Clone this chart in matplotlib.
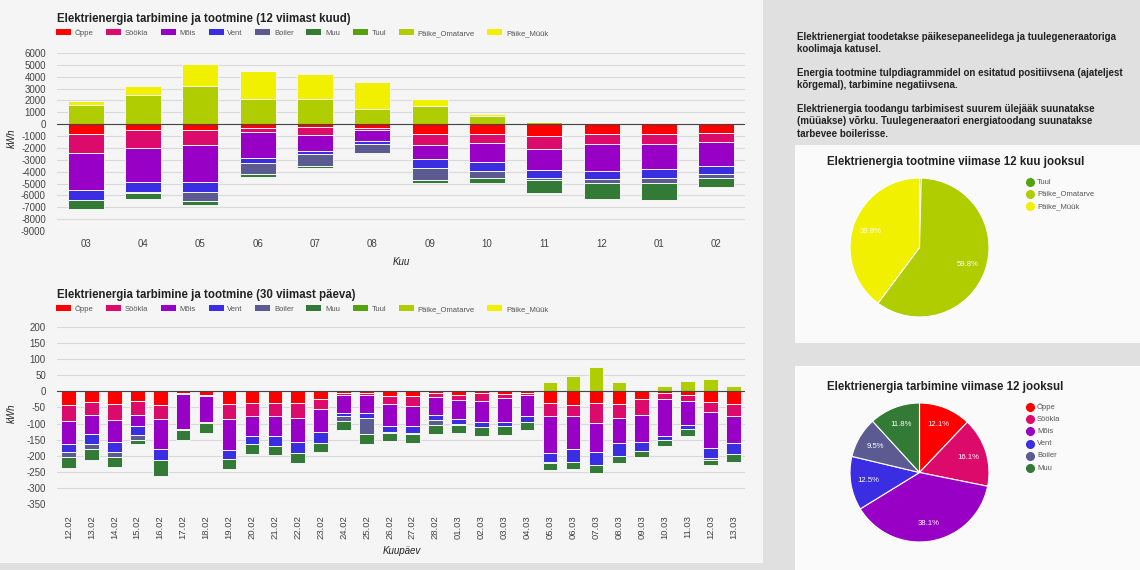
import matplotlib
matplotlib.use("Agg")
import matplotlib.pyplot as plt
from matplotlib.patches import Rectangle, Patch
from matplotlib.lines import Line2D
import numpy as np

plt.rcParams['font.family'] = ['Liberation Sans', 'DejaVu Sans']
plt.rcParams['axes.unicode_minus'] = False

# --- data: last 12 months (kWh) ---
months = ['03', '04', '05', '06', '07', '08', '09', '10', '11', '12', '01', '02']
m_oppe = [840, 480, 480, 360, 250, 340, 840, 785, 1010, 810, 810, 700]
m_sookla = [1600, 1540, 1290, 260, 620, 140, 930, 815, 1060, 840, 840, 840]
m_mois = [3080, 2880, 3080, 2210, 1400, 920, 1200, 1570, 1800, 2300, 2160, 2020]
m_vent = [840, 850, 840, 450, 280, 250, 760, 750, 700, 680, 760, 620]
m_boiler = [30, 60, 790, 900, 950, 760, 980, 650, 110, 360, 420, 330]
m_muu = [790, 500, 330, 250, 170, 140, 280, 360, 1100, 1320, 1370, 820]
m_tuul = [10, 10, 10, 5, 5, 5, 10, 10, 15, 10, 10, 10]
m_omatarve = [1600, 2410, 3250, 2160, 2160, 1260, 1540, 670, 170, 0, 0, 0]
m_myyk = [330, 760, 1800, 2350, 2040, 2330, 590, 140, 0, 0, 0, 0]

# --- data: last 30 days (kWh) ---
days = ['12.02', '13.02', '14.02', '15.02', '16.02', '17.02', '18.02', '19.02', '20.02', '21.02',
        '22.02', '23.02', '24.02', '25.02', '26.02', '27.02', '28.02', '01.03', '02.03', '03.03',
        '04.03', '05.03', '06.03', '07.03', '08.03', '09.03', '10.03', '11.03', '12.03', '13.03']
d_oppe = [44, 34, 40, 29, 43, 5, 10, 39, 37, 37, 37, 25, 6, 6, 14, 14, 6, 10, 6, 7,
          4, 37, 43, 37, 39, 24, 6, 10, 34, 40]
d_sookla = [47, 38, 49, 44, 44, 4, 4, 47, 41, 39, 45, 31, 4, 6, 26, 33, 11, 17, 24, 15,
            6, 41, 35, 62, 44, 50, 18, 20, 31, 38]
d_mois = [71, 60, 68, 34, 92, 107, 81, 96, 60, 62, 75, 70, 56, 56, 66, 59, 57, 59, 66, 74,
          68, 114, 102, 89, 76, 84, 114, 75, 111, 83]
d_vent = [26, 31, 31, 29, 34, 4, 2, 29, 26, 30, 35, 33, 12, 15, 19, 24, 15, 15, 14, 13,
          16, 27, 39, 41, 42, 27, 13, 13, 32, 33]
d_boiler = [16, 17, 16, 15, 1, 0, 0, 0, 0, 0, 0, 0, 14, 50, 4, 3, 14, 2, 2, 0,
            0, 2, 0, 0, 0, 0, 0, 0, 4, 0]
d_muu = [34, 34, 31, 12, 47, 30, 33, 30, 29, 30, 29, 29, 29, 29, 25, 27, 29, 27, 26, 26,
         26, 22, 22, 23, 22, 20, 20, 22, 16, 24]
d_tuul = [0, 0, 0, 0, 0, 0, 0, 0, 0, 0, 0, 0, 0, 0, 0, 0, 0, 0, 0, 0,
          0, 0, 0, 0, 0, 0, 0, 0, 0, 0]
d_omatarve = [0, 0, 0, 0, 0, 0, 0, 0, 0, 0, 0, 0, 0, 0, 0, 0, 0, 0, 0, 0,
              0, 29, 47, 76, 30, 2, 15, 32, 39, 17]
d_myyk = [0, 0, 0, 0, 0, 0, 0, 0, 0, 0, 0, 0, 0, 0, 0, 0, 0, 0, 0, 0,
          0, 0, 0, 0, 0, 0, 0, 0, 0, 0]

# --- pie shares (%) ---
prod_labels = ['Tuul', 'Päike_Omatarve', 'Päike_Müük']
prod_share = [0.4, 59.8, 39.8]
cons_labels = ['Öppe', 'Söökla', 'Mõis', 'Vent', 'Boiler', 'Muu']
cons_share = [12.1, 16.1, 38.1, 12.5, 9.5, 11.8]

series_names = ['Öppe', 'Söökla', 'Mõis', 'Vent', 'Boiler', 'Muu', 'Tuul', 'Päike_Omatarve', 'Päike_Müük']
colors = ['#ff0000', '#dc0a6a', '#9900c6', '#3a2de2', '#5b5b91', '#327a36', '#56a10e', '#afcd00', '#f0f000']

info_lines = [
    ['Elektrienergiat toodetakse päikesepaneelidega ja tuulegeneraatoriga', 'koolimaja katusel.'],
    ['Energia tootmine tulpdiagrammidel on esitatud positiivsena (ajateljest', 'kõrgemal), tarbimine negatiivsena.'],
    ['Elektrienergia toodangu tarbimisest suurem ülejääk suunatakse', '(müüakse) võrku. Tuulegeneraatori energiatoodang suunatakse',
     'tarbevee boilerisse.'],
]

W, H = 1140, 570


def fx(px):
    return px / W


def fy(py):
    return 1 - py / H


fig = plt.figure(figsize=(11.4, 5.7), dpi=100)
fig.patch.set_facecolor('#e0e0e0')
fig.patches.append(Rectangle((0, fy(563)), fx(763), 563 / H, transform=fig.transFigure,
                             facecolor='#f5f5f5', edgecolor='none', zorder=-10))
fig.patches.append(Rectangle((fx(795), fy(343)), fx(345), 198 / H, transform=fig.transFigure,
                             facecolor='#fafafa', edgecolor='none', zorder=-10))
fig.patches.append(Rectangle((fx(795), fy(570)), fx(345), 204 / H, transform=fig.transFigure,
                             facecolor='#fafafa', edgecolor='none', zorder=-10))


def stacked_chart(ax, cats, neg, pos, width):
    x = np.arange(len(cats))
    bottom = np.zeros(len(cats))
    for vals, col in neg:
        v = np.array(vals, dtype=float)
        ax.bar(x, -v, width, bottom=bottom, color=col, edgecolor='#f5f5f5',
               linewidth=np.where(v > 0, 0.7, 0), zorder=3)
        bottom -= v
    top = np.zeros(len(cats))
    for vals, col in pos:
        v = np.array(vals, dtype=float)
        ax.bar(x, v, width, bottom=top, color=col, edgecolor='#f5f5f5',
               linewidth=np.where(v > 0, 0.7, 0), zorder=3)
        top += v
    ax.set_facecolor('none')
    for s in ax.spines.values():
        s.set_visible(False)
    ax.grid(axis='y', color='#d9d9d9', lw=0.8, zorder=0)
    ax.axhline(0, color='#444444', lw=0.8, zorder=4)
    ax.tick_params(length=0, labelsize=7, labelcolor='#444444')
    ax.set_xticks(x)
    ax.set_xticklabels(cats)
    ax.set_xlim(-0.5, len(cats) - 0.5)


def legend_row(y):
    handles = [Patch(facecolor=c, edgecolor='none') for c in colors]
    fig.legend(handles, series_names, loc='center left', bbox_to_anchor=(fx(56), fy(y)),
               bbox_transform=fig.transFigure, ncol=9, frameon=False, borderpad=0,
               borderaxespad=0, fontsize=5.5, handlelength=1.96, handleheight=0.9,
               handletextpad=0.5, columnspacing=1.65, labelcolor='#555555')


# ---- top chart ----
ax1 = fig.add_axes([fx(57), fy(231), fx(688), 178 / H])
stacked_chart(ax1, months,
              [(m_oppe, colors[0]), (m_sookla, colors[1]), (m_mois, colors[2]),
               (m_vent, colors[3]), (m_boiler, colors[4]), (m_muu, colors[5])],
              [(m_tuul, colors[6]), (m_omatarve, colors[7]), (m_myyk, colors[8])], 0.63)
ax1.set_ylim(-9000, 6000)
ax1.set_yticks(np.arange(-9000, 6001, 1000))
ax1.tick_params(axis='x', pad=6)
ax1.tick_params(axis='y', pad=8)
fig.text(fx(57), fy(19), 'Elektrienergia tarbimine ja tootmine (12 viimast kuud)',
         fontsize=8.3, fontweight='bold', color='#222222', va='center')
legend_row(33)
fig.text(fx(12), fy(138), 'kWh', rotation=90, style='italic', fontsize=7, color='#222222',
         ha='center', va='center')
fig.text(fx(401), fy(262), 'Kuu', style='italic', fontsize=7, color='#222222',
         ha='center', va='center')

# ---- bottom chart ----
ax2 = fig.add_axes([fx(57), fy(504.3), fx(688), 177.6 / H])
stacked_chart(ax2, days,
              [(d_oppe, colors[0]), (d_sookla, colors[1]), (d_mois, colors[2]),
               (d_vent, colors[3]), (d_boiler, colors[4]), (d_muu, colors[5])],
              [(d_tuul, colors[6]), (d_omatarve, colors[7]), (d_myyk, colors[8])], 0.64)
ax2.set_ylim(-350, 200)
ax2.set_yticks(np.arange(-350, 201, 50))
ax2.tick_params(axis='x', rotation=90, pad=8, labelsize=6.8)
ax2.tick_params(axis='y', pad=8)
fig.text(fx(57), fy(295), 'Elektrienergia tarbimine ja tootmine (30 viimast päeva)',
         fontsize=8.3, fontweight='bold', color='#222222', va='center')
legend_row(309)
fig.text(fx(12), fy(413), 'kWh', rotation=90, style='italic', fontsize=7, color='#222222',
         ha='center', va='center')
fig.text(fx(402), fy(551), 'Kuupäev', style='italic', fontsize=7, color='#222222',
         ha='center', va='center')

# ---- info text ----
y = 37
for para in info_lines:
    for line in para:
        fig.text(fx(797), fy(y), line, fontsize=7.05, fontweight='bold', color='#222222', va='center')
        y += 12.5
    y += 11


# ---- pies ----
def pie_chart(cy, title, title_y, shares, labels, cols, leg_y):
    ax = fig.add_axes([fx(850), fy(cy + 69.5), fx(139), 139 / H])
    ax.pie(shares, colors=cols, startangle=90, counterclock=False,
           wedgeprops=dict(edgecolor='white', linewidth=0.8),
           autopct=lambda p: ('%.1f%%' % p) if p > 3 else '', pctdistance=0.74,
           textprops=dict(color='white', fontsize=5.6))
    ax.set_xlim(-1, 1)
    ax.set_ylim(-1, 1)
    ax.set_aspect('equal')
    fig.text(fx(827), fy(title_y), title, fontsize=8.3, fontweight='bold', color='#222222', va='center')
    for i, (lab, c) in enumerate(zip(labels, cols)):
        yy = leg_y + i * 12.2
        fig.add_artist(Line2D([fx(1030)], [fy(yy)], marker='o', markersize=5.5, color=c,
                              ls='none', transform=fig.transFigure))
        fig.text(fx(1037), fy(yy), lab, fontsize=5.5, color='#555555', va='center')


pie_chart(247.5, 'Elektrienergia tootmine viimase 12 kuu jooksul', 162,
          prod_share, prod_labels, colors[6:9], 182)
pie_chart(472.5, 'Elektrienergia tarbimine viimase 12 jooksul', 387,
          cons_share, cons_labels, colors[0:6], 407)

fig.savefig('out.png', dpi=100, facecolor=fig.get_facecolor())
